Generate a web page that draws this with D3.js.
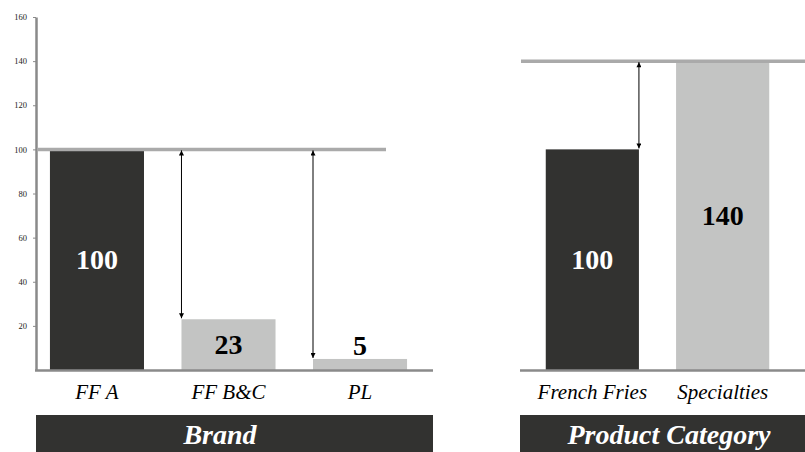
<!DOCTYPE html>
<html>
<head>
<meta charset="utf-8">
<script src="https://cdn.jsdelivr.net/npm/d3@7"></script>
<style>
  html, body { margin: 0; padding: 0; background: #fff; }
  svg { display: block; }
</style>
</head>
<body>
<svg id="chart" width="805" height="452"></svg>
<script>
// Brand panel
const brandCategories = ["FF A", "FF B&C", "PL"];
const brandValues = [100, 23, 5];
const brandReference = 100;
const brandTitle = "Brand";

// Product category panel
const categoryCategories = ["French Fries", "Specialties"];
const categoryValues = [100, 140];
const categoryReference = 140;
const categoryTitle = "Product Category";

// Shared value axis
const yTicks = [20, 40, 60, 80, 100, 120, 140, 160];
const yDomain = [0, 160];

const SERIF = "'Liberation Serif', Tinos, 'Times New Roman', serif";
const DARK = "#323230";
const LIGHT = "#c3c4c3";
const REF = "#aaaaaa";
const AXIS = "#8a8a8a";

const svg = d3.select("#chart");

const defs = svg.append("defs");
defs.append("marker")
  .attr("id", "head")
  .attr("viewBox", "0 0 10 10")
  .attr("refX", 10).attr("refY", 5)
  .attr("markerWidth", 6).attr("markerHeight", 5)
  .attr("orient", "auto-start-reverse")
  .attr("markerUnits", "userSpaceOnUse")
  .append("path").attr("d", "M0,0 L10,5 L0,10 Z").attr("fill", "#000");

const y = d3.scaleLinear().domain(yDomain).range([370, 17]);

// Value axis on the left panel
const yAxis = svg.append("g")
  .attr("transform", "translate(36,0)")
  .call(d3.axisLeft(y).tickValues(yTicks).tickSize(3).tickSizeOuter(0).tickPadding(6));
yAxis.attr("font-family", null);
yAxis.select(".domain").attr("stroke", AXIS).attr("stroke-width", 2.5);
yAxis.selectAll(".tick line").attr("stroke", AXIS).attr("stroke-width", 1);
yAxis.selectAll(".tick text")
  .attr("fill", "#222")
  .style("font-family", SERIF)
  .style("font-size", "8.5px");

function panel(opts) {
  const { cats, values, reference, title, range, paddingOuter,
          baseline, refLine, titleBox, titleX, arrowSide } = opts;

  const x = d3.scaleBand().domain(cats).range(range)
    .paddingInner(0.285).paddingOuter(paddingOuter);
  const g = svg.append("g");
  const data = cats.map((c, i) => ({ cat: c, value: values[i], i }));

  // bars
  g.selectAll("rect.bar").data(data).enter().append("rect")
    .attr("class", "bar")
    .attr("x", d => x(d.cat))
    .attr("width", x.bandwidth())
    .attr("y", d => y(d.value))
    .attr("height", d => y(0) - y(d.value))
    .attr("fill", d => d.i === 0 ? DARK : LIGHT);

  // baseline
  g.append("line")
    .attr("x1", baseline[0]).attr("x2", baseline[1])
    .attr("y1", y(0) + 0.5).attr("y2", y(0) + 0.5)
    .attr("stroke", AXIS).attr("stroke-width", 2.5);

  // reference line
  g.append("line")
    .attr("x1", refLine[0]).attr("x2", refLine[1])
    .attr("y1", y(reference)).attr("y2", y(reference))
    .attr("stroke", REF).attr("stroke-width", 3.5);

  // gap arrows between the reference and each other bar
  data.filter(d => d.value !== reference).forEach(d => {
    const ax = arrowSide === "left" ? x(d.cat) : x(d.cat) + x.bandwidth();
    g.append("line")
      .attr("x1", ax).attr("x2", ax)
      .attr("y1", y(reference) + 1).attr("y2", y(d.value) - 1)
      .attr("stroke", "#000").attr("stroke-width", 1)
      .attr("marker-start", "url(#head)")
      .attr("marker-end", "url(#head)");
  });

  // value labels
  g.selectAll("text.val").data(data).enter().append("text")
    .attr("class", "val")
    .attr("x", d => x(d.cat) + x.bandwidth() / 2)
    .attr("y", d => {
      const h = y(0) - y(d.value);
      return h < 30 ? y(d.value) - 4 : (y(d.value) + y(0)) / 2 + 9.5;
    })
    .attr("text-anchor", "middle")
    .style("font-family", SERIF)
    .style("font-weight", "bold")
    .style("font-size", "28px")
    .attr("fill", d => (d.i === 0 ? "#fff" : "#000"))
    .text(d => d.value);

  // category labels
  g.selectAll("text.cat").data(data).enter().append("text")
    .attr("class", "cat")
    .attr("x", d => x(d.cat) + x.bandwidth() / 2)
    .attr("y", 399)
    .attr("text-anchor", "middle")
    .style("font-family", SERIF)
    .style("font-style", "italic")
    .style("font-size", "21px")
    .attr("fill", "#000")
    .text(d => d.cat);

  // title banner
  g.append("rect")
    .attr("x", titleBox[0]).attr("y", 415)
    .attr("width", titleBox[1] - titleBox[0]).attr("height", 37)
    .attr("fill", DARK);
  g.append("text")
    .attr("x", titleX).attr("y", 444)
    .attr("text-anchor", "middle")
    .style("font-family", SERIF)
    .style("font-style", "italic")
    .style("font-weight", "bold")
    .style("font-size", "28px")
    .attr("fill", "#fff")
    .text(title);
}

panel({
  cats: brandCategories, values: brandValues, reference: brandReference,
  title: brandTitle, range: [36, 421], paddingOuter: 0.106,
  baseline: [35, 433], refLine: [37, 386], titleBox: [36, 433], titleX: 220,
  arrowSide: "left"
});

panel({
  cats: categoryCategories, values: categoryValues, reference: categoryReference,
  title: categoryTitle, range: [521, 794], paddingOuter: 0.19,
  baseline: [520, 805], refLine: [521, 805], titleBox: [520, 805], titleX: 669,
  arrowSide: "right"
});
</script>
</body>
</html>
